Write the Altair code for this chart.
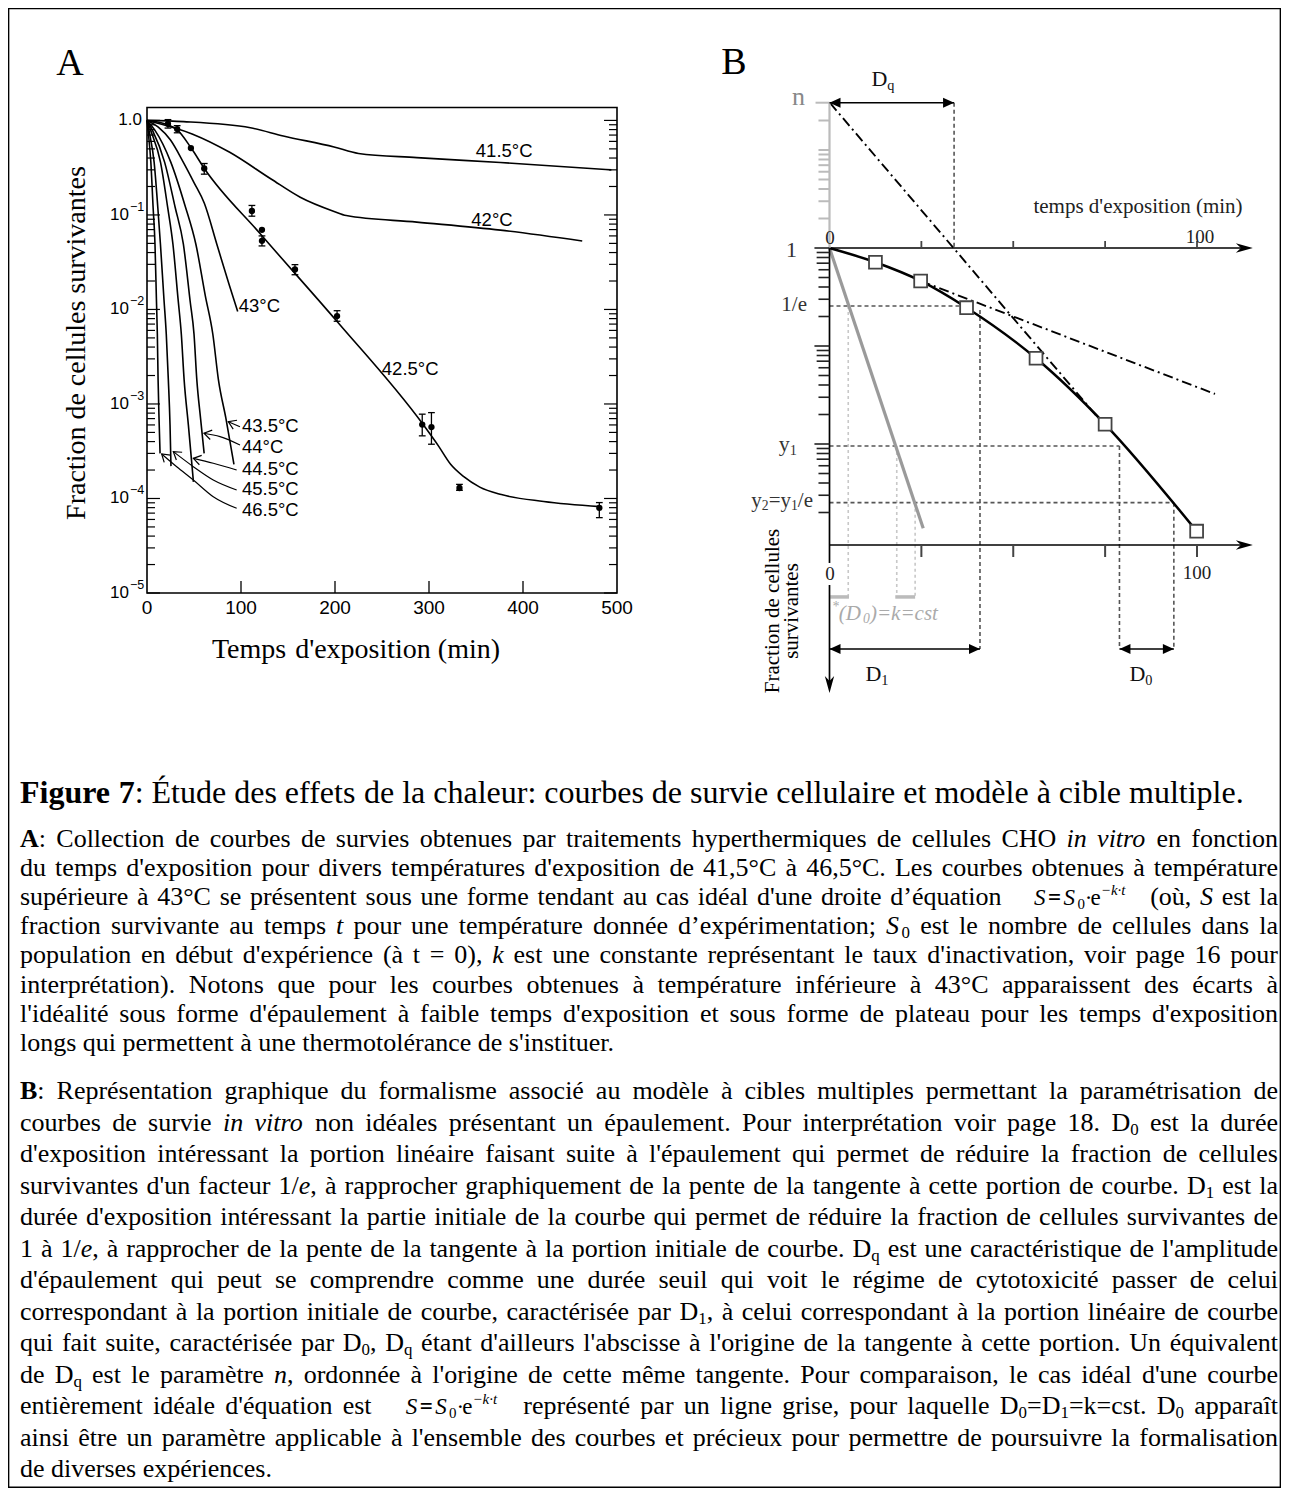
import math
import altair as alt
import pandas as pd

# ======================= PANEL A : survival curves (t in min, surviving fraction) =======================
t_415 = [0, 39, 110, 145, 199, 225, 287, 376, 494]
s_415 = [1.0, 0.97, 0.836, 0.685, 0.524, 0.447, 0.404, 0.359, 0.30]
t_42 = [0, 48, 88, 132, 163, 199, 212, 287, 376, 463]
s_42 = [1.0, 0.72, 0.46, 0.24, 0.154, 0.109, 0.0986, 0.084, 0.069, 0.053]
t_425 = [0, 22, 32, 47, 61, 120, 202, 293, 310, 323, 337, 354, 377, 422, 482]
s_425 = [1.0, 0.9, 0.8, 0.51, 0.31, 0.064, 0.0075, 0.00062, 0.00036, 0.00023, 0.00017, 0.000132, 0.00011, 0.000093, 0.000082]
t_43 = [0, 12, 25, 38.7, 50, 61, 74.3, 87.6, 96.5]
s_43 = [1.0, 0.85, 0.62, 0.36, 0.22, 0.133, 0.049, 0.018, 0.0095]
t_435 = [0, 8, 25.4, 40, 52, 62, 70, 76, 84, 92.5]
s_435 = [1.0, 0.8, 0.36, 0.13, 0.049, 0.014, 0.0055, 0.0018, 0.0007, 0.00023]
t_44 = [0, 6, 18.8, 30, 38.7, 46, 50, 53, 57, 60.8]
s_44 = [1.0, 0.78, 0.36, 0.12, 0.049, 0.012, 0.0055, 0.0018, 0.0007, 0.0003]
t_445 = [0, 4, 14.4, 22, 27.6, 33, 36.5, 39.5, 44, 49.4]
s_445 = [1.0, 0.78, 0.36, 0.12, 0.049, 0.013, 0.0055, 0.0018, 0.0006, 0.00015]
t_455 = [0, 2.5, 7.6, 11.5, 14.3, 18, 20.5, 22.7, 24.5, 25.5]
s_455 = [1.0, 0.75, 0.36, 0.12, 0.049, 0.013, 0.0055, 0.0018, 0.0006, 0.00022]
t_465 = [0, 1.5, 4.1, 6.5, 8.5, 10, 11, 11.8, 12.8, 13.9]
s_465 = [1.0, 0.72, 0.36, 0.12, 0.049, 0.013, 0.0055, 0.0018, 0.0007, 0.0003]

# measured points of the 42.5 °C curve and their error bars
p_t = [22.3, 32.1, 46.7, 60.9, 111.6, 122.3, 122.3, 157.4, 202.2, 292.8, 302.6, 332.4, 481.2]
p_s = [0.92, 0.81, 0.51, 0.31, 0.11, 0.0695, 0.0532, 0.0265, 0.0085, 0.000605, 0.00057, 0.000129, 0.0000795]
e_t = [22.3, 32.1, 60.9, 111.6, 122.3, 157.4, 202.2, 292.8, 302.6, 332.4, 481.2]
e_lo = [0.83, 0.74, 0.27, 0.097, 0.047, 0.0233, 0.0075, 0.00046, 0.000375, 0.000122, 0.0000627]
e_hi = [1.02, 0.88, 0.35, 0.126, 0.06, 0.0298, 0.0097, 0.00078, 0.00081, 0.000141, 0.0000905]

# curve labels
lab_c_text = ["41.5°C", "42°C", "42.5°C"]
lab_c_t = [380, 367, 280]
lab_c_s = [0.475, 0.089, 0.00237]
lab_l_text = ["43°C", "43.5°C", "44°C", "44.5°C", "45.5°C", "46.5°C"]
lab_l_t = [97.5, 101, 101, 101, 101, 101]
lab_l_s = [0.0109, 0.000589, 0.000351, 0.000207, 0.000126, 0.0000755]

# leader lines (label -> curve)
ld_465_t = [95.4, 70.5, 49.3, 31.6, 15.6]
ld_465_s = [7.87e-5, 1.045e-4, 1.57e-4, 2.17e-4, 2.96e-4]
ld_455_t = [95.4, 70.5, 49.3, 28.0]
ld_455_s = [1.23e-4, 1.57e-4, 2.17e-4, 3.13e-4]
ld_445_t = [95.4, 70.5, 49.3]
ld_445_s = [2.0e-4, 2.36e-4, 2.66e-4]
ld_44_t = [98.9, 77.7, 60.6]
ld_44_s = [3.68e-4, 4.51e-4, 4.9e-4]
ld_435_t = [98.9, 86.5]
ld_435_s = [5.74e-4, 6.49e-4]

# axes of panel A
A_xticks = [100, 200, 300, 400]
A_xlab_t = [0, 100, 200, 300, 400, 500]
A_xlab = ["0", "100", "200", "300", "400", "500"]
A_ylab_s = [0.1, 0.01, 0.001, 1e-4, 1e-5]
A_ylab_exp = ["\u22121", "\u22122", "\u22123", "\u22124", "\u22125"]
A_log_ticks = [m * 10.0 ** k for k in range(-5, 0) for m in range(1, 10)] + [1.0]

# ======================= PANEL B : multi-target model (schematic) =======================
B_sq_x = [12.5, 24.8, 37.3, 56.2, 75.0, 99.9]
B_sq_s = [0.715, 0.461, 0.246, 0.0749, 0.0159, 0.00129]
B_n = 30.38
B_1e = 0.256
B_y1 = 0.00954
B_y2 = 0.00252
B_low = 0.000932
B_dim = 8.09e-5
B_brk = 2.75e-4
B_tip = 2.88e-5
B_Dq = 33.9
B_D1 = 40.95
B_D1_top = 0.233
B_D0a = 78.9
B_D0b = 93.7
B_grey_x = [0, 25.5]
B_grey_s = [1.0, 0.00138]
B_steep_x = [0.14, 73.6]
B_steep_s = [30.2, 0.01758]
B_shal_x = [24.8, 104.9]
B_shal_s = [0.461, 0.0324]
B_dot_x = [5.1, 18.3, 23.3]
B_dot_s = [0.256, 0.00954, 0.00252]
B_brk_x1 = [0.2, 17.9]
B_brk_x2 = [5.3, 23.3]
B_xticks = [25, 50, 75, 100]
B_axis_end = 115.2
B_black_ticks = [1.0] + [m * 10.0 ** k for k in (-1, -2, -3) for m in range(9, 0, -1) if not (k == -3 and m == 1)]
B_grey_ticks = [2, 3, 4, 5, 6, 7, 8, 9, 10, 20, B_n]

# ======================= CAPTION =======================
TITLE = "**Figure 7**: Étude des effets de la chaleur: courbes de survie cellulaire et modèle à cible multiple."
PAR_A = [
    "**A**: Collection de courbes de survies obtenues par traitements hyperthermiques de cellules CHO *in vitro* en fonction",
    "du temps d'exposition pour divers températures d'exposition de 41,5°C à 46,5°C. Les courbes obtenues à température",
    "supérieure à 43°C se présentent sous une forme tendant au cas idéal d'une droite d’équation [EQ] (où, *S* est la",
    "fraction survivante au temps *t* pour une température donnée d’expérimentation; *S*_{0} est le nombre de cellules dans la",
    "population en début d'expérience (à t = 0), *k* est une constante représentant le taux d'inactivation, voir page 16 pour",
    "interprétation). Notons que pour les courbes obtenues à température inférieure à 43°C apparaissent des écarts à",
    "l'idéalité sous forme d'épaulement à faible temps d'exposition et sous forme de plateau pour les temps d'exposition",
    "longs qui permettent à une thermotolérance de s'instituer.",
]
PAR_B = [
    "**B**: Représentation graphique du formalisme associé au modèle à cibles multiples permettant la paramétrisation de",
    "courbes de survie *in vitro* non idéales présentant un épaulement. Pour interprétation voir page 18. D_{0} est la durée",
    "d'exposition intéressant la portion linéaire faisant suite à l'épaulement qui permet de réduire la fraction de cellules",
    "survivantes d'un facteur 1/*e*, à rapprocher graphiquement de la pente de la tangente à cette portion de courbe. D_{1} est la",
    "durée d'exposition intéressant la partie initiale de la courbe qui permet de réduire la fraction de cellules survivantes de",
    "1 à 1/*e*, à rapprocher de la pente de la tangente à la portion initiale de courbe. D_{q} est une caractéristique de l'amplitude",
    "d'épaulement qui peut se comprendre comme une durée seuil qui voit le régime de cytotoxicité passer de celui",
    "correspondant à la portion initiale de courbe, caractérisée par D_{1}, à celui correspondant à la portion linéaire de courbe",
    "qui fait suite, caractérisée par D_{0}, D_{q} étant d'ailleurs l'abscisse à l'origine de la tangente à cette portion. Un équivalent",
    "de D_{q} est le paramètre *n*, ordonnée à l'origine de cette même tangente. Pour comparaison, le cas idéal d'une courbe",
    "entièrement idéale d'équation est [EQ] représenté par un ligne grise, pour laquelle D_{0}=D_{1}=k=cst. D_{0} apparaît",
    "ainsi être un paramètre applicable à l'ensemble des courbes et précieux pour permettre de poursuivre la formalisation",
    "de diverses expériences.",
]

# ======================= layout helpers =======================
OFF = 11
W, H = 1267, 1474


def SX():
    return alt.Scale(domain=[0, 1289], range=[-OFF, 1289 - OFF], nice=False, zero=False)


def SY():
    return alt.Scale(domain=[0, 1496], range=[-OFF, 1496 - OFF], nice=False, zero=False)


def SAX():
    return alt.Scale(domain=[0, 500], range=[147 - OFF, 617 - OFF], nice=False, zero=False)


def SAY():
    return alt.Scale(type='log', domain=[1e-5, 1.37], range=[593 - OFF, 107.5 - OFF], nice=False)


def SBX():
    return alt.Scale(domain=[0, 100], range=[829.5 - OFF, 1197 - OFF], nice=False, zero=False)


def SBY():
    return alt.Scale(type='log', domain=[B_low, 1.0], range=[545 - OFF, 248 - OFF], nice=False)


def enc(sx, sy, x='x', y='y', x2=None, y2=None, **extra):
    e = dict(x=alt.X(f'{x}:Q', scale=sx(), axis=None), y=alt.Y(f'{y}:Q', scale=sy(), axis=None))
    if x2:
        e['x2'] = alt.X2(f'{x2}:Q')
    if y2:
        e['y2'] = alt.Y2(f'{y2}:Q')
    e.update(extra)
    return e


# Times metrics (per 1000 em) used to lay out the caption runs
TR = {' ': 250, '!': 333, "'": 180, '’': 333, '(': 333, ')': 333, '*': 500, '+': 564, ',': 250, '-': 333,
      '.': 250, '/': 278, ':': 278, ';': 278, '=': 564, '°': 400, '·': 250, '\u2212': 564}
for c in '0123456789':
    TR[c] = 500
for c, w in zip('ABCDEFGHIJKLMNOPQRSTUVWXYZ', [722, 667, 667, 722, 611, 556, 722, 722, 333, 389, 722, 611, 889,
                                               722, 722, 556, 722, 667, 556, 611, 722, 722, 944, 722, 722, 611]):
    TR[c] = w
for c, w in zip('abcdefghijklmnopqrstuvwxyz', [444, 500, 444, 500, 444, 333, 500, 500, 278, 278, 500, 278, 778,
                                               500, 500, 500, 500, 333, 389, 278, 500, 500, 722, 500, 500, 444]):
    TR[c] = w
for c in 'éèêëàâç':
    TR[c] = 444
for c in 'îï':
    TR[c] = 278
for c in 'ôùû':
    TR[c] = 500
TR['É'] = 611
TI = dict(TR)
TI.update({'=': 675, '\u2212': 675, 'A': 611, 'S': 500, 'D': 722})
for c, w in zip('abcdefghijklmnopqrstuvwxyz', [500, 500, 444, 500, 444, 278, 500, 500, 278, 278, 444, 278, 722,
                                               500, 500, 500, 500, 389, 389, 278, 500, 444, 667, 444, 444, 389]):
    TI[c] = w
TB = dict(TR)
TB.update({':': 333, 'u': 556, 'r': 444, 'a': 500, 'F': 611})
TABLES = {'r': TR, 'i': TI, 'b': TB}


def run_w(text, style, size):
    tab = TABLES[style]
    return sum(tab.get(c, 500) for c in text) / 1000.0 * size


EQ_WORD = {'size': 23, 'padL': 24, 'padR': 16,
           'runs': [("S", 'i', 'n'), (2.5, None, 'gap'), ("=", 'b', 'n'), (2.5, None, 'gap'), ("S", 'i', 'n'),
                    ("0", 'r', 'sub'), ("·", 'r', 'n'), ("e", 'r', 'n'), ("\u2212k·t", 'i', 'sup')]}


def parse_line(line):
    words, cur, buf = [], [], []
    st = {'style': 'r', 'kind': 'n'}

    def flush():
        if buf:
            cur.append((''.join(buf), st['style'], st['kind']))
            buf.clear()

    def end_word():
        flush()
        if cur:
            words.append({'runs': list(cur)})
            cur.clear()

    i = 0
    while i < len(line):
        if line.startswith('**', i):
            flush(); st['style'] = 'r' if st['style'] == 'b' else 'b'; i += 2; continue
        c = line[i]
        if c == '*':
            flush(); st['style'] = 'r' if st['style'] == 'i' else 'i'; i += 1; continue
        if line.startswith('_{', i):
            flush(); st['kind'] = 'sub'; i += 2; continue
        if line.startswith('^{', i):
            flush(); st['kind'] = 'sup'; i += 2; continue
        if c == '}' and st['kind'] != 'n':
            flush(); st['kind'] = 'n'; i += 1; continue
        if line.startswith('[EQ]', i):
            end_word(); words.append(EQ_WORD); i += 4; continue
        if c == ' ':
            end_word(); i += 1; continue
        buf.append(c)
        i += 1
    end_word()
    return words


def layout_word(word, base):
    size = word.get('size', base)
    x = word.get('padL', 0)
    items = []
    prev = None
    for r in word['runs']:
        if r[2] == 'gap':
            x += r[0]
            continue
        text, style, kind = r
        if kind in ('sub', 'sup') and prev is not None and prev[0] == 'i' and prev[1] == 'n':
            x += 0.1 * size   # italic overhang before a script
        fs = size * 0.65 if kind in ('sub', 'sup') else size
        dy = 0.16 * size if kind == 'sub' else (-0.45 * size if kind == 'sup' else 0.0)
        items.append((x, dy, text, style, fs))
        x += run_w(text, style, fs)
        prev = (style, kind)
    return items, x + word.get('padR', 0)


rows_text = []


def add_line(s, x0, y, base, justify=False, x1=None, color='black', align='left'):
    words = parse_line(s) if isinstance(s, str) else s
    laid = [layout_word(w, base) for w in words]
    tot = sum(w for _, w in laid)
    n = len(laid)
    gap = 0.25 * base
    if justify and n > 1:
        gap = max(0.12 * base, (x1 - x0 - tot) / (n - 1))
        start = x0
    else:
        full = tot + gap * (n - 1)
        start = x0 - (full / 2 if align == 'center' else full if align == 'right' else 0)
    x = start
    for items, w in laid:
        for dx, dy, text, style, fs in items:
            rows_text.append(dict(x=x + dx, y=y + dy, text=text, style=style, size=round(fs, 2), color=color))
        x += w + gap


# ---- caption ----
add_line(TITLE, 20, 803, 32)
for i, ln in enumerate(PAR_A):
    add_line(ln, 20, 847 + i * 29.1, 26, justify=(i < len(PAR_A) - 1), x1=1278)
for i, ln in enumerate(PAR_B):
    add_line(ln, 20, 1099 + i * 31.5, 26, justify=(i < len(PAR_B) - 1), x1=1278)

# ---- panel letters and titles ----
add_line("A", 70, 75, 38, align='center')
add_line("B", 734, 74, 38, align='center')
add_line("Temps d'exposition (min)", 356, 658, 28, align='center')

# ---- panel B labels ----
B_labels = [
    ("n", 805, 105, 26, 'right', '#888888'),
    ("1", 797, 257, 22, 'right', '#333333'),
    ("1/e", 807, 311, 21, 'right', '#333333'),
    ("y_{1}", 797, 451, 22, 'right', '#333333'),
    ("y_{2}=y_{1}/e", 813, 507, 21, 'right', '#333333'),
    ("0", 830, 244, 19, 'center', '#222222'),
    ("100", 1200, 243, 19, 'center', '#222222'),
    ("0", 830, 580, 19, 'center', '#222222'),
    ("100", 1197, 579, 19, 'center', '#222222'),
    ("temps d'exposition (min)", 1138, 213, 21, 'center', '#222222'),
    ("D_{q}", 883, 86, 22, 'center', '#111111'),
    ("D_{1}", 877, 681, 22, 'center', '#111111'),
    ("D_{0}", 1141, 681, 22, 'center', '#111111'),
]
for s, xx, yy, fs, al, col in B_labels:
    add_line(s, xx, yy, fs, align=al, color=col)
add_line([{'runs': [("*", 'i', 'sup'), ("(D", 'i', 'n'), ("0", 'i', 'sub'), (")=k=cst", 'i', 'n')]}],
         832, 620, 21, color='#aaaaaa')

rot_rows = pd.DataFrame([
    dict(x=77, y=343, text="Fraction de cellules survivantes", size=28),
    dict(x=773, y=611, text="Fraction de cellules", size=21),
    dict(x=792, y=611, text="survivantes", size=21),
])

L = []

# page border
L.append(alt.Chart(pd.DataFrame({'x': [8.6], 'x2': [1280.4], 'y': [8.6], 'y2': [1487.2]})).mark_rect(
    fill='white', fillOpacity=0, stroke='black', strokeWidth=1.5).encode(**enc(SX, SY, x2='x2', y2='y2')))

# ======================= PANEL A layers =======================
L.append(alt.Chart(pd.DataFrame({'x': [0], 'x2': [500], 'y': [1e-5], 'y2': [1.37]})).mark_rect(
    fill='white', fillOpacity=0, stroke='black', strokeWidth=1.6).encode(**enc(SAX, SAY, x2='x2', y2='y2')))

tk = []
for v in A_log_ticks:
    lg = math.log10(v)
    ln = 13.8 if abs(lg - round(lg)) < 1e-9 else 8.5
    tk.append(dict(x=0, x2=ln, y=v))
    tk.append(dict(x=500 - ln, x2=500, y=v))
L.append(alt.Chart(pd.DataFrame(tk)).mark_rule(color='black', strokeWidth=1.2).encode(**enc(SAX, SAY, x2='x2')))
L.append(alt.Chart(pd.DataFrame({'x': A_xticks, 'y': 1e-5, 'y2': 1.34e-5})).mark_rule(
    color='black', strokeWidth=1.3).encode(**enc(SAX, SAY, y2='y2')))

curves = [("41.5", t_415, s_415), ("42", t_42, s_42), ("42.5", t_425, s_425), ("43", t_43, s_43),
          ("43.5", t_435, s_435), ("44", t_44, s_44), ("44.5", t_445, s_445), ("45.5", t_455, s_455),
          ("46.5", t_465, s_465)]
cr = [dict(series=nm, x=t, y=s) for nm, ts, ss in curves for t, s in zip(ts, ss)]
L.append(alt.Chart(pd.DataFrame(cr)).mark_line(interpolate='monotone', color='black', strokeWidth=1.6).encode(
    **enc(SAX, SAY, detail='series:N')))

leaders = [("46.5", ld_465_t, ld_465_s), ("45.5", ld_455_t, ld_455_s), ("44.5", ld_445_t, ld_445_s),
           ("44", ld_44_t, ld_44_s), ("43.5", ld_435_t, ld_435_s)]
lr = [dict(series=nm, x=t, y=s) for nm, ts, ss in leaders for t, s in zip(ts, ss)]
L.append(alt.Chart(pd.DataFrame(lr)).mark_line(interpolate='monotone', color='black', strokeWidth=1.2).encode(
    **enc(SAX, SAY, detail='series:N')))


def pxA(t, s):
    return 147 + 0.94 * t, 120.4 - 94.52 * math.log10(s)


heads = []
for nm, ts, ss in leaders:
    x1, y1 = pxA(ts[-2], ss[-2])
    x2, y2 = pxA(ts[-1], ss[-1])
    heads.append(dict(x=ts[-1], y=ss[-1], ang=math.degrees(math.atan2(-(y2 - y1), -(x2 - x1)))))
L.append(alt.Chart(pd.DataFrame(heads)).mark_point(
    shape='M2,-1.3L0,0L2,1.3', filled=False, size=55, color='black', strokeWidth=1.2, opacity=1).encode(
    **enc(SAX, SAY, angle=alt.Angle('ang:Q', scale=None))))

L.append(alt.Chart(pd.DataFrame({'x': e_t, 'y': e_lo, 'y2': e_hi})).mark_rule(
    color='black', strokeWidth=1.3).encode(**enc(SAX, SAY, y2='y2')))
caps = [dict(x=t - 3.6, x2=t + 3.6, y=v) for t, lo, hi in zip(e_t, e_lo, e_hi) for v in (lo, hi)]
L.append(alt.Chart(pd.DataFrame(caps)).mark_rule(color='black', strokeWidth=1.3).encode(**enc(SAX, SAY, x2='x2')))
L.append(alt.Chart(pd.DataFrame({'x': p_t, 'y': p_s})).mark_point(
    filled=True, shape='circle', size=40, color='black', opacity=1).encode(**enc(SAX, SAY)))

L.append(alt.Chart(pd.DataFrame({'x': lab_c_t, 'y': lab_c_s, 'text': lab_c_text})).mark_text(
    font='Liberation Sans', fontSize=18.5, align='center', baseline='middle', color='black').encode(
    **enc(SAX, SAY, text='text:N')))
L.append(alt.Chart(pd.DataFrame({'x': lab_l_t, 'y': lab_l_s, 'text': lab_l_text})).mark_text(
    font='Liberation Sans', fontSize=18.5, align='left', baseline='middle', color='black').encode(
    **enc(SAX, SAY, text='text:N')))

L.append(alt.Chart(pd.DataFrame({'x': A_xlab_t, 'y': 1e-5, 'text': A_xlab})).mark_text(
    font='Liberation Sans', fontSize=19, align='center', baseline='top', dy=6, color='black').encode(
    **enc(SAX, SAY, text='text:N')))
L.append(alt.Chart(pd.DataFrame({'x': [0], 'y': [1.0], 'text': ["1.0"]})).mark_text(
    font='Liberation Sans', fontSize=17, align='right', baseline='middle', dx=-5, color='black').encode(
    **enc(SAX, SAY, text='text:N')))
L.append(alt.Chart(pd.DataFrame({'x': 0, 'y': A_ylab_s, 'text': "10"})).mark_text(
    font='Liberation Sans', fontSize=17, align='right', baseline='middle', dx=-18, color='black').encode(
    **enc(SAX, SAY, text='text:N')))
L.append(alt.Chart(pd.DataFrame({'x': 0, 'y': A_ylab_s, 'text': A_ylab_exp})).mark_text(
    font='Liberation Sans', fontSize=12.5, align='left', baseline='middle', dx=-17, dy=-8, color='black').encode(
    **enc(SAX, SAY, text='text:N')))

# ======================= PANEL B layers =======================
L.append(alt.Chart(pd.DataFrame({'x': B_dot_x, 'y': B_dot_s, 'y2': B_brk})).mark_rule(
    color='#c8c8c8', strokeWidth=1.6, strokeDash=[3, 3]).encode(**enc(SBX, SBY, y2='y2')))
L.append(alt.Chart(pd.DataFrame({'x': B_brk_x1, 'x2': B_brk_x2, 'y': B_brk})).mark_rule(
    color='#bbbbbb', strokeWidth=3.5).encode(**enc(SBX, SBY, x2='x2')))
hd = pd.DataFrame({'x': [0, 0, 0], 'x2': [B_sq_x[2], B_D0a, B_D0b], 'y': [B_1e, B_y1, B_y2]})
L.append(alt.Chart(hd).mark_rule(color='#555555', strokeWidth=1.6, strokeDash=[4, 3]).encode(
    **enc(SBX, SBY, x2='x2')))
vd = pd.DataFrame({'x': [B_Dq, B_D1, B_D0a, B_D0b], 'y': [B_n, B_D1_top, B_y1, B_y2],
                   'y2': [1.0, B_dim, B_dim, B_dim]})
L.append(alt.Chart(vd).mark_rule(color='#555555', strokeWidth=1.6, strokeDash=[4, 3]).encode(
    **enc(SBX, SBY, y2='y2')))

L.append(alt.Chart(pd.DataFrame({'x': B_grey_x, 'y': B_grey_s})).mark_line(
    color='#9a9a9a', strokeWidth=3.2).encode(**enc(SBX, SBY)))
tg = [dict(series='steep', x=x, y=s) for x, s in zip(B_steep_x, B_steep_s)] + \
     [dict(series='shallow', x=x, y=s) for x, s in zip(B_shal_x, B_shal_s)]
L.append(alt.Chart(pd.DataFrame(tg)).mark_line(color='black', strokeWidth=1.9, strokeDash=[10, 4, 2, 4]).encode(
    **enc(SBX, SBY, detail='series:N')))
L.append(alt.Chart(pd.DataFrame({'x': [0] + B_sq_x, 'y': [1.0] + B_sq_s})).mark_line(
    interpolate='monotone', color='black', strokeWidth=2.5).encode(**enc(SBX, SBY)))
L.append(alt.Chart(pd.DataFrame({'x': B_sq_x, 'y': B_sq_s})).mark_point(
    shape='square', filled=True, color='white', stroke='#444444', strokeWidth=1.8, size=165, opacity=1).encode(
    **enc(SBX, SBY)))

# axes
ax = pd.DataFrame({'x': [0, 0], 'x2': [B_axis_end - 1, B_axis_end - 1], 'y': [1.0, B_low]})
L.append(alt.Chart(ax).mark_rule(color='black', strokeWidth=1.5).encode(**enc(SBX, SBY, x2='x2')))
L.append(alt.Chart(pd.DataFrame({'x': [0], 'y': [1.0], 'y2': [B_n]})).mark_rule(
    color='#bbbbbb', strokeWidth=2.2).encode(**enc(SBX, SBY, y2='y2')))
L.append(alt.Chart(pd.DataFrame({'x': [0, 0, 0], 'y': [1.0, B_low, 0.000364], 'y2': [B_low, 0.000611, 3.3e-5]})).mark_rule(
    color='black', strokeWidth=1.7).encode(**enc(SBX, SBY, y2='y2')))
L.append(alt.Chart(pd.DataFrame({'x': B_xticks, 'y': 1.0, 'y2': 1.179})).mark_rule(
    color='#444444', strokeWidth=1.8).encode(**enc(SBX, SBY, y2='y2')))
L.append(alt.Chart(pd.DataFrame({'x': B_xticks, 'y': B_low, 'y2': 0.000703})).mark_rule(
    color='#444444', strokeWidth=2).encode(**enc(SBX, SBY, y2='y2')))
bt = []
for v in B_black_ticks:
    lg = math.log10(v)
    m = round(v / 10 ** math.floor(lg + 1e-9))
    ln = 4.1 if m == 1 else (3.5 if m >= 7 else 3.0)
    bt.append(dict(x=-ln, x2=0, y=v))
L.append(alt.Chart(pd.DataFrame(bt)).mark_rule(color='#222222', strokeWidth=1.6).encode(**enc(SBX, SBY, x2='x2')))
gt = [dict(x=-(3.8 if v == B_n else 3.0), x2=0, y=v) for v in B_grey_ticks]
L.append(alt.Chart(pd.DataFrame(gt)).mark_rule(color='#bbbbbb', strokeWidth=2).encode(**enc(SBX, SBY, x2='x2')))

# dimension arrows
dm = pd.DataFrame({'x': [0, 0, B_D0a], 'x2': [B_Dq, B_D1, B_D0b], 'y': [B_n, B_dim, B_dim]})
L.append(alt.Chart(dm).mark_rule(color='black', strokeWidth=1.5).encode(**enc(SBX, SBY, x2='x2')))
ah = pd.DataFrame({'x': [0, B_Dq, 0, B_D1, B_D0a, B_D0b], 'y': [B_n, B_n, B_dim, B_dim, B_dim, B_dim],
                   'ang': [180, 0, 180, 0, 180, 0]})
L.append(alt.Chart(ah).mark_point(shape='M0,0L-2,-0.9L-2,0.9Z', filled=True, size=121, color='black',
                                  opacity=1).encode(**enc(SBX, SBY, angle=alt.Angle('ang:Q', scale=None))))
st = pd.DataFrame({'x': [B_axis_end, B_axis_end, 0], 'y': [1.0, B_low, B_tip], 'ang': [0, 0, 90]})
L.append(alt.Chart(st).mark_point(shape='M0,0L-2,-0.55L-1.4,0L-2,0.55Z', filled=True, size=289, color='black',
                                  opacity=1).encode(**enc(SBX, SBY, angle=alt.Angle('ang:Q', scale=None))))

# ======================= text layers (page coordinates) =======================
tdf = pd.DataFrame(rows_text)
for sty in ('r', 'i', 'b'):
    sub = tdf[tdf['style'] == sty]
    if sub.empty:
        continue
    kw = dict(align='left', baseline='alphabetic', font='Liberation Serif')
    if sty == 'i':
        kw['fontStyle'] = 'italic'
    if sty == 'b':
        kw['fontWeight'] = 'bold'
    L.append(alt.Chart(sub).mark_text(**kw).encode(
        **enc(SX, SY, text='text:N', size=alt.Size('size:Q', scale=None), color=alt.Color('color:N', scale=None))))
L.append(alt.Chart(rot_rows).mark_text(align='center', baseline='middle', angle=270, font='Liberation Serif',
                                       color='black').encode(
    **enc(SX, SY, text='text:N', size=alt.Size('size:Q', scale=None))))

chart = alt.layer(*L).resolve_scale(x='independent', y='independent').properties(
    width=W, height=H, padding=3, autosize=alt.AutoSizeParams(type='none'), background='white'
).configure_view(strokeWidth=0)

chart.save("out.html", embed_options={"renderer": "svg", "actions": False})
